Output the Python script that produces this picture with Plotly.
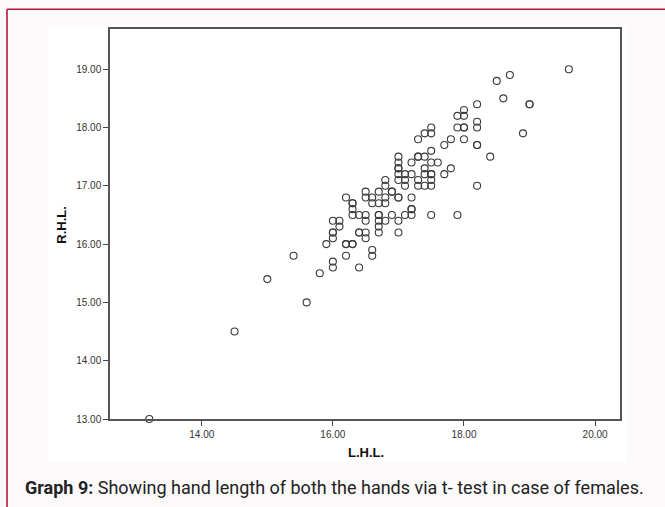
import plotly.graph_objects as go

# Left hand length (L.H.L.) and right hand length (R.H.L.)
lhl = [13.2, 14.5, 15.0, 15.4, 15.6, 15.8, 15.9,
       16.0, 16.0, 16.0, 16.0, 16.0, 16.0, 16.1, 16.1,
       16.2, 16.2, 16.2, 16.2, 16.3, 16.3, 16.3, 16.3, 16.3, 16.3,
       16.4, 16.4, 16.4, 16.4,
       16.5, 16.5, 16.5, 16.5, 16.5, 16.5,
       16.6, 16.6, 16.6, 16.6,
       16.7, 16.7, 16.7, 16.7, 16.7, 16.7, 16.7,
       16.8, 16.8, 16.8, 16.8, 16.8,
       16.9, 16.9, 16.9,
       17.0, 17.0, 17.0, 17.0, 17.0, 17.0, 17.0, 17.0, 17.0, 17.0,
       17.1, 17.1, 17.1, 17.1,
       17.2, 17.2, 17.2, 17.2, 17.2, 17.2,
       17.3, 17.3, 17.3, 17.3, 17.3,
       17.4, 17.4, 17.4, 17.4, 17.4,
       17.5, 17.5, 17.5, 17.5, 17.5, 17.5, 17.5, 17.5, 17.5,
       17.6, 17.7, 17.7, 17.8, 17.8,
       17.9, 17.9, 17.9,
       18.0, 18.0, 18.0, 18.0, 18.0,
       18.2, 18.2, 18.2, 18.2, 18.2, 18.2,
       18.4, 18.5, 18.6, 18.7, 18.9, 19.0, 19.0, 19.6]
rhl = [13.0, 14.5, 15.4, 15.8, 15.0, 15.5, 16.0,
       15.7, 15.6, 16.1, 16.2, 16.2, 16.4, 16.4, 16.3,
       16.8, 16.0, 16.0, 15.8, 16.0, 16.0, 16.7, 16.7, 16.6, 16.5,
       16.5, 16.2, 16.2, 15.6,
       16.9, 16.8, 16.5, 16.4, 16.2, 16.1,
       16.8, 16.7, 15.9, 15.8,
       16.9, 16.7, 16.5, 16.5, 16.4, 16.3, 16.2,
       17.1, 17.0, 16.8, 16.7, 16.4,
       16.9, 16.9, 16.5,
       17.5, 17.4, 17.3, 17.3, 17.2, 17.1, 16.8, 16.8, 16.4, 16.2,
       17.2, 17.1, 17.0, 16.5,
       17.4, 17.2, 16.8, 16.6, 16.6, 16.5,
       17.8, 17.5, 17.5, 17.1, 17.0,
       17.9, 17.5, 17.3, 17.2, 17.0,
       18.0, 17.9, 17.6, 17.4, 17.2, 17.2, 17.1, 17.0, 16.5,
       17.4, 17.7, 17.2, 17.8, 17.3,
       18.2, 18.0, 16.5,
       18.3, 18.2, 18.0, 18.0, 17.8,
       18.4, 18.1, 18.0, 17.7, 17.7, 17.0,
       17.5, 18.8, 18.5, 18.9, 17.9, 18.4, 18.4, 19.0]

x_ticks = [14, 16, 18, 20]
x_tick_labels = ["14.00", "16.00", "18.00", "20.00"]
y_ticks = [13, 14, 15, 16, 17, 18, 19]
y_tick_labels = ["13.00", "14.00", "15.00", "16.00", "17.00", "18.00", "19.00"]

W, H = 665, 507
L, R, T, B = 110, 620, 29.3, 419.3
pw, ph = R - L, B - T

def px(x):
    return (x - L) / pw

def py(y):
    return (B - y) / ph

fig = go.Figure()
fig.add_trace(go.Scatter(
    x=lhl, y=rhl, mode="markers",
    marker=dict(symbol="circle-open", size=7, color="#3a3a3a",
                line=dict(width=1.1, color="#3a3a3a")),
    hoverinfo="skip", showlegend=False, cliponaxis=False,
))

axis_common = dict(
    showgrid=False, zeroline=False, ticks="outside", ticklen=5,
    tickwidth=1, tickcolor="#444", showline=True, linecolor="#555",
    linewidth=1.5, mirror=True,
    tickfont=dict(family="Liberation Sans, Arial", size=10, color="#333"),
)

fig.update_xaxes(range=[12.6, 20.38], tickvals=x_ticks, ticktext=x_tick_labels,
                 **axis_common)
fig.update_yaxes(range=[13.0, 19.69], tickvals=y_ticks, ticktext=y_tick_labels,
                 **axis_common)

shapes = [
    # white chart background
    dict(type="rect", xref="paper", yref="paper", layer="below",
         x0=px(48), x1=px(627), y0=py(463), y1=py(25),
         fillcolor="white", line=dict(width=0)),
    # crimson frame (top and left)
    dict(type="line", xref="paper", yref="paper",
         x0=px(7), x1=px(666), y0=py(9.5), y1=py(9.5),
         line=dict(color="#b5153d", width=1.6)),
    dict(type="line", xref="paper", yref="paper",
         x0=px(7), x1=px(7), y0=py(9.5), y1=py(508),
         line=dict(color="#b5153d", width=1.6)),
]

annotations = [
    dict(text="<b>L.H.L.</b>", xref="paper", yref="paper",
         x=px(366), y=py(453), showarrow=False,
         font=dict(family="Liberation Sans, Arial", size=13, color="#111"),
         xanchor="center", yanchor="middle"),
    dict(text="<b>R.H.L.</b>", xref="paper", yref="paper",
         x=px(62), y=py(225), showarrow=False, textangle=-90,
         font=dict(family="Liberation Sans, Arial", size=13, color="#111"),
         xanchor="center", yanchor="middle"),
    dict(text="<b>Graph 9:</b> Showing hand length of both the hands via t- test in case of females.",
         xref="paper", yref="paper", x=px(23), y=py(488), showarrow=False,
         font=dict(family="Roboto, Liberation Sans, Arial", size=18, color="#222"),
         xanchor="left", yanchor="middle"),
]

fig.update_layout(
    width=W, height=H,
    margin=dict(l=L, r=W - R, t=T, b=H - B, pad=0),
    paper_bgcolor="#fcf9fa",
    plot_bgcolor="#f0f0f0",
    shapes=shapes,
    annotations=annotations,
)

fig.write_html("out.html")
